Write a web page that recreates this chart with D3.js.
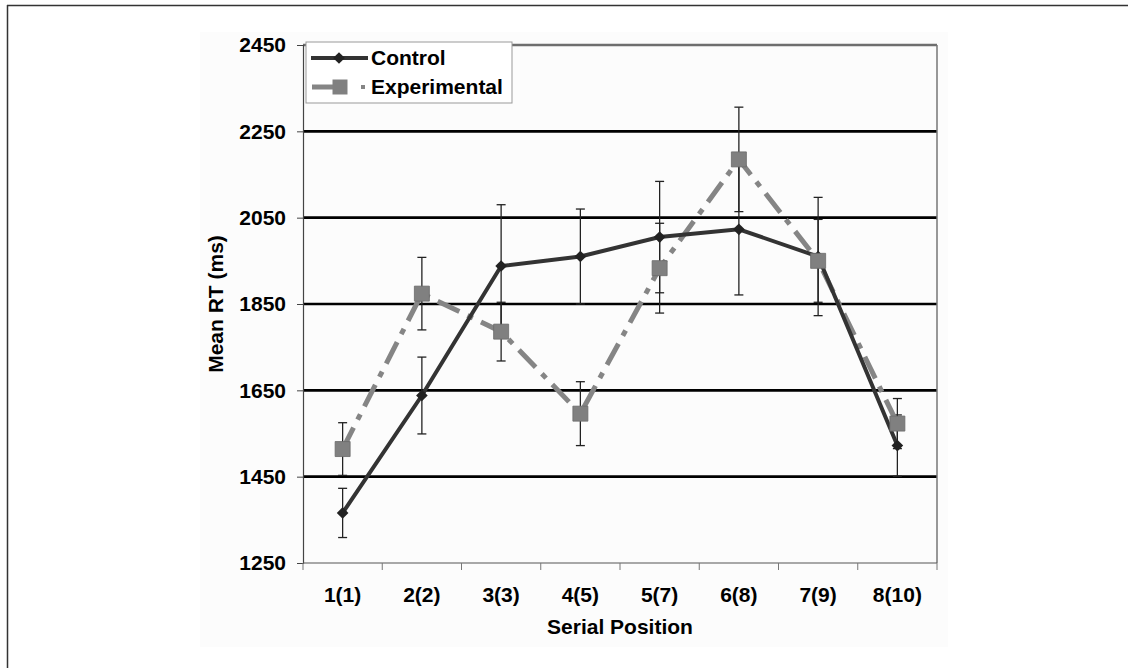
<!DOCTYPE html>
<html lang="en">
  <head>
    <meta charset="utf-8"/>
    <title>Mean RT by Serial Position</title>
    <script src="https://d3js.org/d3.v7.min.js"></script>
    <style>
      body { margin: 0; background: #fff; }
      svg text { font-family: "Liberation Sans", Arial, sans-serif; font-weight: bold; fill: #000; }
    </style>
  </head>
  <body>
    <div id="chart"></div>
    <script>
    // values
    var categories = ["1(1)", "2(2)", "3(3)", "4(5)", "5(7)", "6(8)", "7(9)", "8(10)"];
    var controlMean = [1366, 1638, 1938, 1960, 2005, 2023, 1960, 1522];
    var controlErr  = [57, 89, 142, 110, 129, 152, 137, 71];
    var expMean     = [1514, 1874, 1786, 1596, 1933, 2185, 1950, 1573];
    var expErr      = [61, 84, 68, 74, 104, 121, 96, 58];
    var yTicks      = [1250, 1450, 1650, 1850, 2050, 2250, 2450];
    var seriesNames = ["Control", "Experimental"];

    var width = 1128, height = 668;
    var plot = {left: 303, right: 937, top: 45, bottom: 563};

    var svg = d3.select("#chart").append("svg")
        .attr("width", width)
        .attr("height", height);

    // outer frame (only top & left visible)
    svg.append("line").attr("x1", 7).attr("x2", width).attr("y1", 5.5).attr("y2", 5.5)
        .attr("stroke", "#333").attr("stroke-width", 1.5);
    svg.append("line").attr("x1", 7.5).attr("x2", 7.5).attr("y1", 5).attr("y2", height)
        .attr("stroke", "#333").attr("stroke-width", 1.5);

    // faint background of the pasted figure
    svg.append("rect").attr("x", 200).attr("y", 32).attr("width", 748).attr("height", 615)
        .attr("fill", "#fcfcfc");

    var x = d3.scaleBand().domain(categories).range([plot.left, plot.right]).padding(0);
    var y = d3.scaleLinear().domain([1250, 2450]).range([plot.bottom, plot.top]);
    var cx = function(i) { return x(categories[i]) + x.bandwidth() / 2; };

    // gridlines
    svg.append("g").selectAll("line")
      .data(yTicks.filter(function(t) { return t > 1250 && t < 2450; }))
      .join("line")
        .attr("x1", plot.left).attr("x2", plot.right)
        .attr("y1", function(d) { return y(d); }).attr("y2", function(d) { return y(d); })
        .attr("stroke", "#000").attr("stroke-width", 2.6);

    // plot frame: top (grey, thick) and right
    svg.append("line").attr("x1", plot.left).attr("x2", plot.right)
        .attr("y1", y(2450)).attr("y2", y(2450))
        .attr("stroke", "#6e6e6e").attr("stroke-width", 2.6);
    svg.append("line").attr("x1", plot.right).attr("x2", plot.right)
        .attr("y1", plot.top).attr("y2", plot.bottom)
        .attr("stroke", "#777").attr("stroke-width", 1.5);

    // y axis
    var yAxis = svg.append("g")
        .attr("transform", "translate(" + plot.left + ",0)")
        .call(d3.axisLeft(y).tickValues(yTicks).tickSize(6).tickPadding(11).tickFormat(d3.format("d")));
    yAxis.select(".domain").attr("stroke", "#444").attr("stroke-width", 1.2);
    yAxis.selectAll(".tick line").attr("stroke", "#444");
    yAxis.selectAll("text").style("font-size", "21px");

    // x axis (ticks between categories)
    var xAxisG = svg.append("g").attr("transform", "translate(0," + plot.bottom + ")");
    xAxisG.append("line").attr("x1", plot.left).attr("x2", plot.right)
        .attr("stroke", "#555").attr("stroke-width", 1.2);
    xAxisG.selectAll(".tk")
      .data(d3.range(categories.length + 1))
      .join("line")
        .attr("class", "tk")
        .attr("x1", function(i) { return plot.left + i * x.bandwidth(); })
        .attr("x2", function(i) { return plot.left + i * x.bandwidth(); })
        .attr("y1", 0).attr("y2", 7)
        .attr("stroke", "#777");
    xAxisG.selectAll("text")
      .data(categories)
      .join("text")
        .attr("x", function(d, i) { return cx(i); })
        .attr("y", 32)
        .attr("dy", "0.35em")
        .attr("text-anchor", "middle")
        .style("font-size", "21px")
        .text(function(d) { return d; });

    // axis titles
    svg.append("text")
        .attr("transform", "translate(216," + ((plot.top + plot.bottom) / 2) + ") rotate(-90)")
        .attr("text-anchor", "middle").attr("dy", "0.35em")
        .style("font-size", "21px")
        .text("Mean RT (ms)");
    svg.append("text")
        .attr("x", (plot.left + plot.right) / 2).attr("y", 627)
        .attr("text-anchor", "middle").attr("dy", "0.35em")
        .style("font-size", "21px")
        .text("Serial Position");

    // error bars
    function errorBars(means, errs, cls) {
      var g = svg.append("g").attr("class", cls);
      var idx = d3.range(means.length);
      g.selectAll("line.v").data(idx).join("line").attr("class", "v")
        .attr("x1", cx).attr("x2", cx)
        .attr("y1", function(i) { return y(means[i] + errs[i]); })
        .attr("y2", function(i) { return y(means[i] - errs[i]); })
        .attr("stroke", "#222").attr("stroke-width", 1.3);
      [1, -1].forEach(function(s) {
        g.selectAll("line.c" + (s > 0 ? "u" : "d")).data(idx).join("line").attr("class", "c" + (s > 0 ? "u" : "d"))
          .attr("x1", function(i) { return cx(i) - 4.5; }).attr("x2", function(i) { return cx(i) + 4.5; })
          .attr("y1", function(i) { return y(means[i] + s * errs[i]); })
          .attr("y2", function(i) { return y(means[i] + s * errs[i]); })
          .attr("stroke", "#222").attr("stroke-width", 1.3);
      });
    }
    errorBars(controlMean, controlErr, "ctrl-err");
    errorBars(expMean, expErr, "exp-err");

    var line = d3.line()
        .x(function(d, i) { return cx(i); })
        .y(function(d) { return y(d); });

    // experimental line (dash-dot)
    svg.append("path").datum(expMean)
        .attr("d", line)
        .attr("fill", "none")
        .attr("stroke", "#858585")
        .attr("stroke-width", 5)
        .attr("stroke-dasharray", "24,9,6,9");

    // control line
    svg.append("path").datum(controlMean)
        .attr("d", line)
        .attr("fill", "none")
        .attr("stroke", "#333")
        .attr("stroke-width", 4);

    var diamond = d3.symbol().type(d3.symbolSquare).size(68);
    var square = d3.symbol().type(d3.symbolSquare).size(225);

    svg.append("g").selectAll("path").data(controlMean).join("path")
        .attr("d", diamond)
        .attr("transform", function(d, i) { return "translate(" + cx(i) + "," + y(d) + ") rotate(45)"; })
        .attr("fill", "#222");

    svg.append("g").selectAll("path").data(expMean).join("path")
        .attr("d", square)
        .attr("transform", function(d, i) { return "translate(" + cx(i) + "," + y(d) + ")"; })
        .attr("fill", "#808080")
        .attr("stroke", "#6a6a6a").attr("stroke-width", 0.8);

    // legend
    var lg = svg.append("g");
    lg.append("rect").attr("x", 306).attr("y", 42).attr("width", 206).attr("height", 61)
        .attr("fill", "#fff").attr("stroke", "#999").attr("stroke-width", 1);
    lg.append("line").attr("x1", 311).attr("x2", 368).attr("y1", 58).attr("y2", 58)
        .attr("stroke", "#333").attr("stroke-width", 4);
    lg.append("path").attr("d", diamond).attr("transform", "translate(339,58) rotate(45)").attr("fill", "#222");
    lg.append("line").attr("x1", 312).attr("x2", 346).attr("y1", 87).attr("y2", 87)
        .attr("stroke", "#858585").attr("stroke-width", 5);
    lg.append("path").attr("d", square).attr("transform", "translate(340,87)").attr("fill", "#808080");
    lg.append("rect").attr("x", 361).attr("y", 85).attr("width", 4).attr("height", 4).attr("fill", "#858585");
    lg.selectAll("text.lbl").data(seriesNames).join("text").attr("class", "lbl")
        .attr("x", 371).attr("y", function(d, i) { return 58 + i * 29; })
        .attr("dy", "0.35em")
        .style("font-size", "21px")
        .text(function(d) { return d; });
    </script>
  </body>
</html>
